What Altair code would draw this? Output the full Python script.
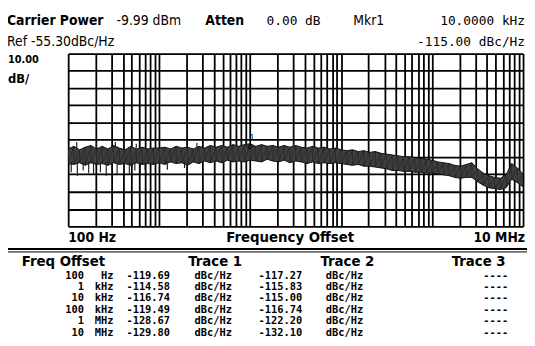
import altair as alt
import pandas as pd

# ---------------- data ----------------
freqs = [100, 115.5, 133.4, 154, 177.8, 205.4, 237.1, 273.8, 316.2, 365.2, 421.7, 487, 562.3, 649.4, 749.9, 866,
         1000, 1155, 1334, 1540, 1778, 2054, 2371, 2738, 3162, 3652, 4217, 4870, 5623, 6494, 7499, 8660,
         10000, 11550, 13340, 15400, 17780, 20540, 23710, 27380, 31620, 36520, 42170, 48700, 56230, 64940, 74990, 86600,
         100000, 115500, 133400, 154000, 177800, 205400, 237100, 273800, 316200, 365200, 421700, 487000, 562300, 649400, 749900, 866000,
         1000000, 1155000, 1334000, 1540000, 1778000, 2054000, 2371000, 2738000, 3162000, 3652000, 4217000, 4870000, 5623000, 6494000, 7499000, 8660000,
         10000000]
upper = [-110.5, -109.0, -111.0, -109.5, -108.5, -110.5, -109.0, -110.5, -108.5, -110.0, -111.0, -109.0, -110.5, -109.5, -110.5, -110.0,
         -110.0, -109.5, -110.5, -109.0, -110.0, -109.5, -110.5, -109.0, -110.0, -108.5, -109.5, -108.5, -109.5, -108.0, -109.0, -108.0,
         -107.5, -109.0, -108.0, -109.0, -108.5, -109.5, -108.5, -109.5, -108.5, -109.5, -110.0, -109.0, -110.0, -109.5, -110.5, -110.0,
         -111.0, -111.5, -111.0, -112.0, -111.5, -112.5, -112.0, -113.0, -113.5, -114.0, -114.5, -115.0, -115.0, -115.5, -116.0, -116.5,
         -117.0, -118.0, -118.5, -119.0, -120.0, -120.5, -119.5, -118.5, -122.0, -124.5, -126.0, -127.0, -127.5, -125.5, -119.0, -121.5,
         -125.0]
lower = [-119.0, -119.5, -118.5, -120.0, -118.5, -119.5, -119.0, -120.0, -118.5, -119.5, -119.0, -120.0, -118.5, -119.5, -119.0, -119.5,
         -118.5, -119.5, -118.0, -119.0, -118.5, -120.0, -118.0, -119.0, -117.5, -118.5, -117.5, -118.5, -117.0, -118.0, -117.5, -118.0,
         -117.0, -117.5, -118.0, -116.5, -117.5, -118.0, -117.0, -118.5, -117.5, -118.0, -119.0, -118.0, -119.0, -118.5, -119.0, -118.5,
         -119.0, -119.5, -120.0, -119.5, -120.5, -120.5, -121.0, -121.5, -122.0, -123.0, -123.0, -123.5, -123.5, -124.0, -124.0, -124.5,
         -124.5, -125.0, -125.5, -126.0, -127.0, -127.5, -127.0, -127.0, -129.5, -131.5, -133.0, -133.5, -134.0, -133.0, -128.0, -130.0,
         -132.5]

# isolated noise spikes (frequency, top, bottom) in dBc/Hz
spike_f = [108, 126, 146, 168, 190, 226, 262, 300, 345, 410, 470, 540, 620, 700, 1230, 1900, 124, 205, 330, 560, 2600, 9000, 30000]
spike_top = [-118.0, -118.0, -118.0, -118.0, -118.0, -118.0, -118.0, -118.0, -118.0, -118.0, -118.0, -118.0, -118.0, -118.0, -117.5, -117.5,
             -106.5, -107.0, -106.5, -107.5, -107.0, -106.0, -106.5]
spike_bot = [-124.0, -126.0, -123.0, -124.5, -125.0, -124.0, -126.0, -122.5, -125.0, -123.5, -125.5, -123.0, -124.5, -122.5, -122.5, -121.5,
             -110.0, -110.0, -110.0, -110.0, -110.0, -109.0, -109.0]

ref_level = -55.30
db_per_div = 10.0
marker_freq = [10000]
marker_val = [-115.00]

offset_nums = ["100", "1", "10", "100", "1", "10"]
offset_units = ["Hz", "kHz", "kHz", "kHz", "MHz", "MHz"]
trace1 = ["-119.69", "-114.58", "-116.74", "-119.49", "-128.67", "-129.80"]
trace2 = ["-117.27", "-115.83", "-115.00", "-116.74", "-122.20", "-132.10"]
trace3 = ["----", "----", "----", "----", "----", "----"]

x_grid = [m * 10 ** e for e in range(2, 7) for m in range(1, 10)] + [10 ** 7]
y_grid = [ref_level - db_per_div * k for k in range(0, 11)]

# ---------------- chart ----------------
df = pd.DataFrame({"f": freqs, "hi": upper, "lo": lower})
zz = pd.DataFrame({
    "f": [f for f in freqs for _ in (0, 1)],
    "v": [v for pair in zip(upper, lower) for v in pair],
    "o": list(range(2 * len(freqs))),
})
sp = pd.DataFrame({"f": spike_f, "t": spike_top, "b": spike_bot})
one = pd.DataFrame({"k": [0]})

W, H = 461, 175
xs = alt.Scale(type="log", domain=[100, 1e7], nice=False)
ys = alt.Scale(domain=[ref_level - 10 * db_per_div, ref_level], nice=False, zero=False)

xax = alt.Axis(values=x_grid, tickCount=200, grid=True, labels=False, ticks=False, domain=False, title=None,
               gridColor="black", gridWidth=1.8, gridOpacity=1)
yax = alt.Axis(values=y_grid, tickCount=200, grid=True, labels=False, ticks=False, domain=False, title=None,
               gridColor="black", gridWidth=1.8, gridOpacity=1)

band = alt.Chart(df).mark_area(color="#3e3e3e", clip=True).encode(
    x=alt.X("f:Q", scale=xs, axis=xax),
    y=alt.Y("hi:Q", scale=ys, axis=yax),
    y2="lo:Q",
)
edge_hi = alt.Chart(df).mark_line(color="#111", strokeWidth=1, clip=True).encode(
    x=alt.X("f:Q", scale=xs), y=alt.Y("hi:Q", scale=ys))
edge_lo = alt.Chart(df).mark_line(color="#111", strokeWidth=1, clip=True).encode(
    x=alt.X("f:Q", scale=xs), y=alt.Y("lo:Q", scale=ys))
zig = alt.Chart(zz).mark_line(color="#111", strokeWidth=0.6, opacity=0.7, clip=True).encode(
    x=alt.X("f:Q", scale=xs), y=alt.Y("v:Q", scale=ys), order="o:Q")
spikes = alt.Chart(sp).mark_rule(color="#222", strokeWidth=1.2, clip=True).encode(
    x=alt.X("f:Q", scale=xs), y=alt.Y("t:Q", scale=ys), y2="b:Q")

mk = pd.DataFrame({"f": marker_freq, "v": marker_val})
marker = alt.Chart(mk).mark_point(shape="diamond", size=22, color="black", filled=False, strokeWidth=1.2,
                                  yOffset=-10).encode(
    x=alt.X("f:Q", scale=xs), y=alt.Y("v:Q", scale=ys))
marker_lbl = alt.Chart(mk).mark_text(text="1", font="DejaVu Sans", fontSize=8, dx=2, dy=-19,
                                     color="black").encode(
    x=alt.X("f:Q", scale=xs), y=alt.Y("v:Q", scale=ys))

HF = "DejaVu Sans Condensed, Liberation Sans, sans-serif"
MONO = "DejaVu Sans Mono"


def txt(s, x, y, align="left", font=HF, size=14, weight="bold"):
    return alt.Chart(one).mark_text(text=s, align=align, baseline="alphabetic", font=font,
                                    fontSize=size, fontWeight=weight, color="black").encode(
        x=alt.value(x), y=alt.value(y))


def col(lines, x, y, align="left", font=MONO, size=10.5):
    return alt.Chart(one).mark_text(text="\n".join(lines), lineBreak="\n", lineHeight=11.6, align=align,
                                    baseline="alphabetic", font=font, fontSize=size, fontWeight="bold",
                                    color="black").encode(x=alt.value(x), y=alt.value(y))


texts = [
    txt("Carrier Power", -62, -29),
    txt("-9.99 dBm", 49, -29, weight="normal"),
    txt("Atten", 139, -29),
    txt("0.00 dB", 201, -29, font=MONO, size=13, weight="normal"),
    txt("Mkr1", 289, -29, weight="normal"),
    txt("10.0000 kHz", 463, -29, align="right", font=MONO, size=13, weight="normal"),
    txt("Ref -55.30dBc/Hz", -62, -8, weight="normal"),
    txt("-115.00 dBc/Hz", 463, -8, align="right", font=MONO, size=13, weight="normal"),
    txt("10.00", -61, 10, size=11),
    txt("dB/", -61, 30, size=13),
    txt("100 Hz", 0, 191, size=14),
    txt("Frequency Offset", 225, 191, align="center", size=15),
    txt("10 MHz", 463, 191, align="right", size=14),
    txt("Freq Offset", -47, 215, size=15),
    txt("Trace 1", 149, 215, align="center", size=15),
    txt("Trace 2", 283, 215, align="center", size=15),
    txt("Trace 3", 416, 215, align="center", size=15),
    col(offset_nums, 16, 228, align="right"),
    col(offset_units, 46, 228, align="right"),
    col(trace1, 59, 228),
    col(["dBc/Hz"] * len(trace1), 128, 228),
    col(trace2, 193, 228),
    col(["dBc/Hz"] * len(trace2), 261, 228),
    col(trace3, 446, 228, align="right"),
]

sep1 = alt.Chart(one).mark_rule(color="black", strokeWidth=2).encode(
    x=alt.value(-61), x2=alt.value(466), y=alt.value(198))
sep2 = alt.Chart(one).mark_rule(color="black", strokeWidth=1).encode(
    x=alt.value(-61), x2=alt.value(466), y=alt.value(201))

chart = alt.layer(band, zig, edge_hi, edge_lo, spikes, marker, marker_lbl, sep1, sep2, *texts).properties(
    width=W, height=H,
    autosize=alt.AutoSizeParams(type="none"),
    padding={"left": 61, "top": 44, "right": 4, "bottom": 111},
).configure_view(stroke="black", strokeWidth=2).configure(background="white")

chart.save("out.html", embed_options={"renderer": "svg", "actions": False})
